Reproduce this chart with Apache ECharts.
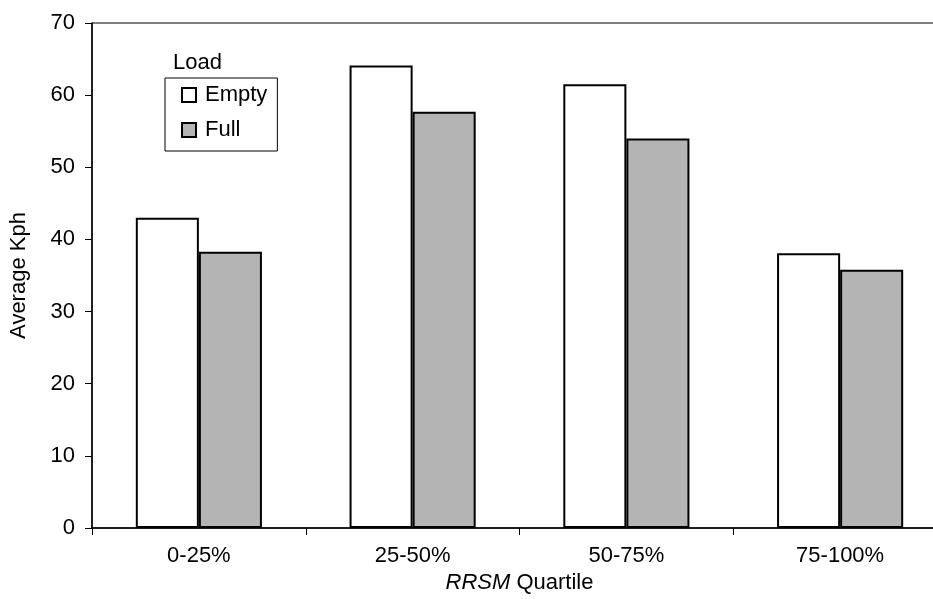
<!DOCTYPE html>
<html style="height: 100%">
<head>
	<meta charset="utf-8">
</head>
<body style="height: 100%; margin: 0; background: #fff">
<div id="container" style="width: 933px; height: 599px"></div>
<script type="text/javascript" src="https://cdn.jsdelivr.net/npm/echarts@6/dist/echarts.min.js"></script>
<script type="text/javascript">
    var quartiles = ['0-25%', '25-50%', '50-75%', '75-100%'];
    var emptyKph = [43.0, 64.1, 61.5, 38.1];
    var fullKph = [38.3, 57.7, 54.0, 35.8];
    var yTicks = {min: 0, max: 70, interval: 10};

    var font = 'Liberation Sans, Arial, sans-serif';
    var dom = document.getElementById("container");
    var myChart = echarts.init(dom);

    var option = {
        backgroundColor: '#fff',
        animation: false,
        textStyle: {fontFamily: font, color: '#000'},
        grid: {
            left: 92,
            top: 23,
            width: 855,
            bottom: 71,
            outerBoundsMode: 'none',
            containLabel: false,
            show: true,
            borderColor: '#000',
            borderWidth: 1,
            backgroundColor: '#fff'
        },
        graphic: [{
            type: 'text',
            left: 173,
            top: 52,
            style: {text: 'Load', font: '22px ' + font, fill: '#000'}
        }],
        legend: {
            left: 165,
            top: 78,
            orient: 'vertical',
            padding: [6, 10, 10, 16],
            itemGap: 13,
            itemWidth: 14,
            itemHeight: 14,
            borderColor: '#000',
            borderWidth: 1,
            backgroundColor: '#fff',
            icon: 'rect',
            textStyle: {fontSize: 22, fontFamily: font, color: '#000', padding: [0, 0, 0, 4]},
            data: ['Empty', 'Full']
        },
        xAxis: {
            type: 'category',
            data: quartiles,
            name: '{i|RRSM} Quartile',
            nameLocation: 'middle',
            nameGap: 42,
            nameTextStyle: {
                fontSize: 22,
                color: '#000',
                rich: {i: {fontSize: 22, fontStyle: 'italic', fontFamily: font, color: '#000'}}
            },
            axisLine: {lineStyle: {color: '#000', width: 1.5}},
            axisTick: {show: true, length: 7, lineStyle: {color: '#000'}},
            axisLabel: {fontSize: 22, color: '#000', margin: 17}
        },
        yAxis: {
            type: 'value',
            min: yTicks.min,
            max: yTicks.max,
            interval: yTicks.interval,
            name: 'Average Kph',
            nameLocation: 'middle',
            nameGap: 62,
            nameTextStyle: {fontSize: 22, color: '#000'},
            axisLine: {show: true, lineStyle: {color: '#000', width: 1.5}},
            axisTick: {show: true, length: 7, lineStyle: {color: '#000'}},
            axisLabel: {fontSize: 22, color: '#000', margin: 17},
            splitLine: {show: false}
        },
        series: [{
            name: 'Empty',
            type: 'bar',
            data: emptyKph,
            barGap: '0%',
            barCategoryGap: '41%',
            itemStyle: {color: '#fff', borderColor: '#000', borderWidth: 2}
        }, {
            name: 'Full',
            type: 'bar',
            data: fullKph,
            itemStyle: {color: '#b4b4b4', borderColor: '#000', borderWidth: 2}
        }]
    };

    myChart.setOption(option);
</script>
</body>
</html>
